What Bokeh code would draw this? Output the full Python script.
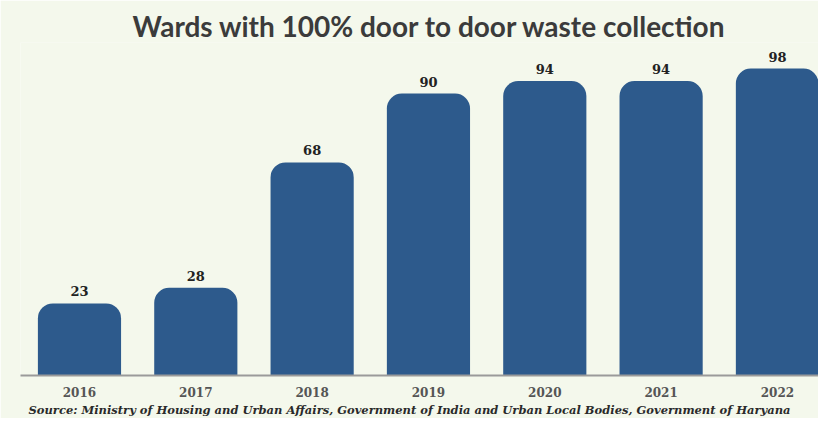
from bokeh.plotting import figure
from bokeh.models import ColumnDataSource, FixedTicker, Title
from bokeh.core.properties import value
from bokeh.embed import file_html
from bokeh.resources import INLINE

years = ["2016", "2017", "2018", "2019", "2020", "2021", "2022"]
wards = [23, 28, 68, 90, 94, 94, 98]
positions = list(range(len(years)))
labels = [str(v) for v in wards]

BG = "#f4f8ec"
BAR = "#2d5a8c"

src = ColumnDataSource(dict(x=positions, top=wards, label=labels))

p = figure(width=818, height=418, output_backend="svg", toolbar_location=None,
           x_range=(-0.507, 6.353), y_range=(0, 106.3), y_axis_type=None,
           min_border_left=20, min_border_right=0, min_border_top=42, min_border_bottom=42,
           background_fill_color=BG, border_fill_color=BG, outline_line_color=None)

p.title.text = "Wards with 100% door to door waste collection"
p.title.align = "left"
p.title.offset = 112
p.title.text_font = "Lato"
p.title.text_font_size = "28px"
p.title.text_font_style = "bold"
p.title.text_color = "#3b3b3b"
p.title.standoff = 0

p.vbar(x="x", top="top", bottom=0, width=0.715, source=src, fill_color=BAR,
       line_color=None, border_radius=(15, 15, 0, 0))

p.text(x="x", y="top", text="label", source=src, text_align="center", text_baseline="bottom",
       y_offset=-7, text_font=value("DejaVu Serif"), text_font_style="bold",
       text_font_size="13px", text_color="#222222")

p.xgrid.visible = False
p.ygrid.visible = False
ax = p.xaxis[0]
ax.ticker = FixedTicker(ticks=positions)
ax.major_label_overrides = {i: y for i, y in zip(positions, years)}
ax.major_tick_line_color = None
ax.minor_tick_line_color = None
ax.axis_line_color = "#9a9a9a"
ax.axis_line_width = 2
ax.major_label_standoff = 5
ax.major_label_text_font = "DejaVu Serif"
ax.major_label_text_font_style = "bold"
ax.major_label_text_font_size = "12px"
ax.major_label_text_color = "#555555"

source_title = Title(text="Source: Ministry of Housing and Urban Affairs, Government of India and Urban Local Bodies, Government of Haryana",
                     align="left", offset=8, text_font="DejaVu Serif", text_font_style="bold italic",
                     text_font_size="11.5px", text_color="#2a2a2a", standoff=3)
p.add_layout(source_title, "below")

open("out.html", "w").write(file_html(p, INLINE))
